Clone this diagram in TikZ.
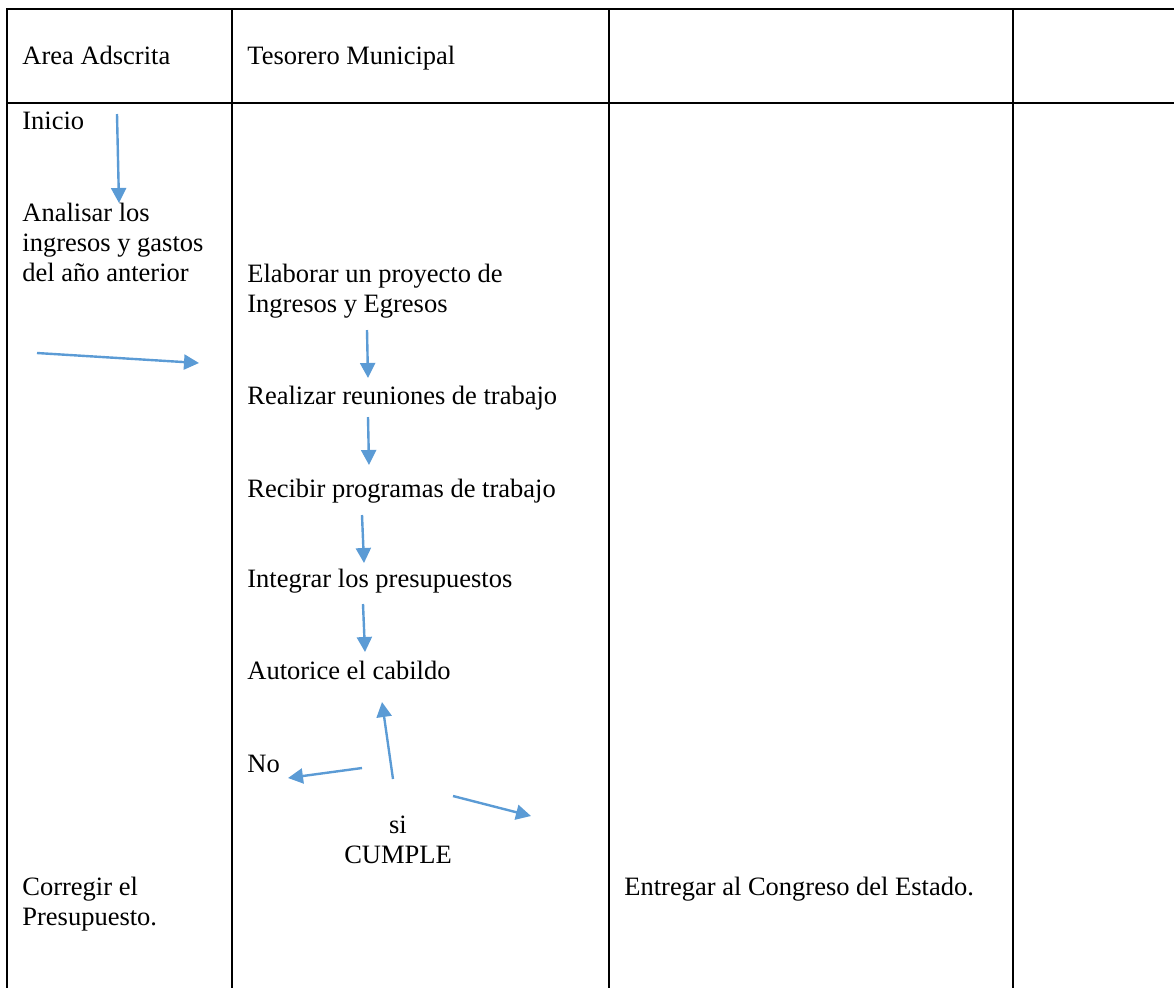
\documentclass[tikz,border=0pt]{standalone}
\usepackage{fontspec}
\setmainfont{Liberation Serif}
\usetikzlibrary{arrows.meta}
\definecolor{flowblue}{HTML}{5B9BD5}
\begin{document}
\begin{tikzpicture}[x=0.5pt,y=-0.5pt,
  grid/.style={line width=1.3pt, black},
  cell/.style={inner sep=0pt, anchor=base west, align=left,
    font=\fontsize{13.25pt}{15pt}\selectfont},
  flow/.style={draw=flowblue, line width=1.2pt,
    -{Triangle[length=7.5pt,width=7.5pt]}}]
\useasboundingbox (0,0) rectangle (1174,987);

% table rules (open on the right and at the bottom)
\draw[grid] (7,990) -- (7,9) -- (1178,9);
\draw[grid] (7,103) -- (1178,103);
\draw[grid] (232,9) -- (232,990);
\draw[grid] (609,9) -- (609,990);
\draw[grid] (1013,9) -- (1013,990);

% cell texts (multi-line nodes are placed by the baseline of their last line)
\node[cell] (area) at (22,64) {Area Adscrita};
\node[cell] (tes) at (247,64) {Tesorero Municipal};
\node[cell] (inicio) at (22,129) {Inicio};
\node[cell] (analisar) at (22,281) {Analisar los\\ingresos y gastos\\del año anterior};
\node[cell] (elaborar) at (247,312) {Elaborar un proyecto de\\Ingresos y Egresos};
\node[cell] (reuniones) at (247,404) {Realizar reuniones de trabajo};
\node[cell] (recibir) at (247,497) {Recibir programas de trabajo};
\node[cell] (integrar) at (247,587) {Integrar los presupuestos};
\node[cell] (autorice) at (247,679) {Autorice el cabildo};
\node[cell] (no) at (247,772) {No};
\node[cell, align=center, anchor=base] (cumple) at (398,863) {si\\CUMPLE};
\node[cell] (corregir) at (22,925) {Corregir el\\Presupuesto.};
\node[cell] (entregar) at (624,895) {Entregar al Congreso del Estado.};

% arrow end points
\coordinate (inicioA) at (117,114);   \coordinate (inicioB) at (119,203);
\coordinate (pasaA) at (37,353);      \coordinate (pasaB) at (199,363);
\coordinate (elabA) at (367,330);     \coordinate (elabB) at (368,378);
\coordinate (reunA) at (368,417);     \coordinate (reunB) at (369,465);
\coordinate (recA) at (362,515);      \coordinate (recB) at (364,563);
\coordinate (intA) at (363,604);      \coordinate (intB) at (365,652);
\coordinate (upA) at (393,779);       \coordinate (upB) at (382,702);
\coordinate (noA) at (362,768);       \coordinate (noB) at (288,778);
\coordinate (siA) at (453,796);       \coordinate (siB) at (531,816);

% flow arrows
\draw[flow] (inicioA) -- (inicioB);
\draw[flow] (pasaA) -- (pasaB);
\draw[flow] (elabA) -- (elabB);
\draw[flow] (reunA) -- (reunB);
\draw[flow] (recA) -- (recB);
\draw[flow] (intA) -- (intB);
\draw[flow] (upA) -- (upB);
\draw[flow] (noA) -- (noB);
\draw[flow] (siA) -- (siB);
\end{tikzpicture}
\end{document}
